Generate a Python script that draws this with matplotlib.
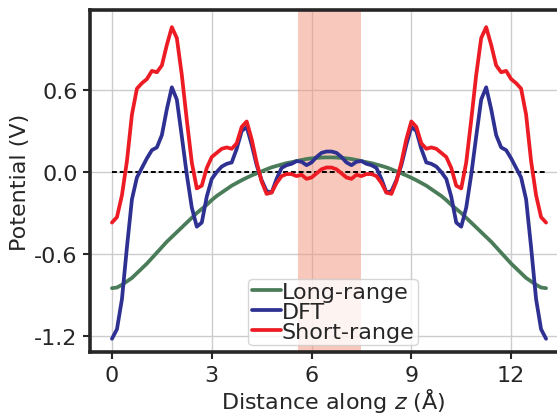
import numpy as np
from matplotlib import pyplot as plt

plt.rcParams['font.family'] = ['DejaVu Sans']
plt.rcParams['axes.unicode_minus'] = False

# distance along z (Angstrom)
z = np.array([0.00, 0.15, 0.30, 0.45, 0.60, 0.75, 0.90, 1.05, 1.20, 1.35,
              1.50, 1.65, 1.80, 1.95, 2.10, 2.25, 2.40, 2.55, 2.70, 2.85,
              3.00, 3.15, 3.30, 3.45, 3.60, 3.75, 3.90, 4.05, 4.20, 4.35,
              4.50, 4.65, 4.80, 4.95, 5.10, 5.25, 5.40, 5.55, 5.70, 5.85,
              6.00, 6.15, 6.30, 6.45, 6.60, 6.75, 6.90, 7.05, 7.20, 7.35,
              7.50, 7.65, 7.80, 7.95, 8.10, 8.25, 8.40, 8.55, 8.70, 8.85,
              9.00, 9.15, 9.30, 9.45, 9.60, 9.75, 9.90, 10.05, 10.20, 10.35,
              10.50, 10.65, 10.80, 10.95, 11.10, 11.25, 11.40, 11.55, 11.70, 11.85,
              12.00, 12.15, 12.30, 12.45, 12.60, 12.75, 12.90, 13.05])

long_range = np.array([
    -0.85, -0.845, -0.825, -0.80, -0.775, -0.74, -0.705, -0.67, -0.63, -0.59,
    -0.55, -0.51, -0.475, -0.44, -0.405, -0.37, -0.335, -0.30, -0.27, -0.24,
    -0.205, -0.175, -0.15, -0.125, -0.10, -0.08, -0.06, -0.042, -0.025, -0.01,
    0.005, 0.02, 0.034, 0.045, 0.055, 0.065, 0.072, 0.08, 0.088, 0.095,
    0.10, 0.103, 0.106, 0.107,
    0.107, 0.106, 0.103, 0.10, 0.095, 0.088, 0.08, 0.072, 0.065, 0.055,
    0.045, 0.034, 0.02, 0.005, -0.01, -0.025, -0.042, -0.06, -0.08, -0.10,
    -0.125, -0.15, -0.175, -0.205, -0.24, -0.27, -0.30, -0.335, -0.37, -0.405,
    -0.44, -0.475, -0.51, -0.55, -0.59, -0.63, -0.67, -0.705, -0.74, -0.775,
    -0.80, -0.825, -0.845, -0.85])

dft = np.array([
    -1.22, -1.15, -0.93, -0.55, -0.20, -0.04, 0.03, 0.10, 0.16, 0.18,
    0.27, 0.46, 0.62, 0.53, 0.26, -0.02, -0.26, -0.40, -0.37, -0.18,
    -0.05, 0.00, 0.04, 0.06, 0.07, 0.17, 0.30, 0.33, 0.20, 0.05,
    -0.06, -0.14, -0.15, -0.05, 0.03, 0.05, 0.06, 0.08, 0.075, 0.05,
    0.07, 0.11, 0.14, 0.15,
    0.15, 0.14, 0.11, 0.07, 0.05, 0.075, 0.08, 0.06, 0.05, 0.03,
    -0.05, -0.15, -0.14, -0.06, 0.05, 0.20, 0.33, 0.30, 0.17, 0.07,
    0.06, 0.04, 0.00, -0.05, -0.18, -0.37, -0.40, -0.26, -0.02, 0.26,
    0.53, 0.62, 0.46, 0.27, 0.18, 0.16, 0.10, 0.03, -0.04, -0.20,
    -0.55, -0.93, -1.15, -1.22])

short_range = np.array([
    -0.37, -0.33, -0.17, 0.08, 0.42, 0.61, 0.65, 0.68, 0.74, 0.73,
    0.78, 0.93, 1.06, 0.98, 0.71, 0.38, 0.07, -0.12, -0.10, 0.03,
    0.11, 0.14, 0.17, 0.18, 0.17, 0.21, 0.33, 0.37, 0.24, 0.07,
    -0.07, -0.16, -0.15, -0.08, -0.03, -0.015, -0.015, -0.03, -0.02, -0.05,
    -0.04, -0.01, 0.02, 0.033,
    0.033, 0.02, -0.01, -0.04, -0.05, -0.02, -0.03, -0.015, -0.015, -0.03,
    -0.08, -0.15, -0.16, -0.07, 0.07, 0.24, 0.37, 0.33, 0.21, 0.17,
    0.18, 0.17, 0.14, 0.11, 0.03, -0.10, -0.12, 0.07, 0.38, 0.71,
    0.98, 1.06, 0.93, 0.78, 0.73, 0.74, 0.68, 0.65, 0.61, 0.42,
    0.08, -0.17, -0.33, -0.37])

# shaded region
region = [5.6, 7.5]

xticks = [0, 3, 6, 9, 12]
yticks = [-1.2, -0.6, 0.0, 0.6]
yticklabels = ['-1.2', '-0.6', '0.0', '0.6']

dark = '#262626'
fig = plt.figure(figsize=(5.57, 4.14), dpi=100)
ax = fig.add_axes([0.1616, 0.1473, 0.8725, 0.826])

ax.axvspan(region[0], region[1], color='#F3937A', alpha=0.5, lw=0, zorder=1)
ax.plot([z[0], z[-1]], [0, 0], color='black', lw=1.4, dashes=(2.5, 1.5), zorder=2)
style = dict(lw=2.7, solid_joinstyle='round', solid_capstyle='round')
ax.plot(z, long_range, color='#4a7c59', label='Long-range', zorder=3, **style)
ax.plot(z, dft, color='#2e3192', label='DFT', zorder=4, **style)
ax.plot(z, short_range, color='#ed1c24', label='Short-range', zorder=5, **style)

ax.set_xlim(-0.66, 13.95)
ax.set_ylim(-1.317, 1.185)
ax.set_xticks(xticks)
ax.set_yticks(yticks)
ax.set_yticklabels(yticklabels)
ax.grid(True, color='#cccccc', lw=1.0, zorder=0)
ax.set_axisbelow(True)
ax.tick_params(labelsize=16, colors=dark, length=5, width=1.5, direction='out', pad=4)
for s in ax.spines.values():
    s.set_color(dark)
    s.set_linewidth(2.6)

ax.set_xlabel('Distance along $z$ (Å)', fontsize=16, color=dark, labelpad=1)
ax.set_ylabel('Potential (V)', fontsize=16, color=dark, labelpad=3)

leg = ax.legend(loc='lower center', fontsize=16, labelspacing=0.0, borderpad=0.15,
                handlelength=1.3, handletextpad=0.05, borderaxespad=0.3,
                fancybox=True, framealpha=0.8, edgecolor='#cccccc')
for t in leg.get_texts():
    t.set_color(dark)

plt.savefig('out.png', dpi=100)
